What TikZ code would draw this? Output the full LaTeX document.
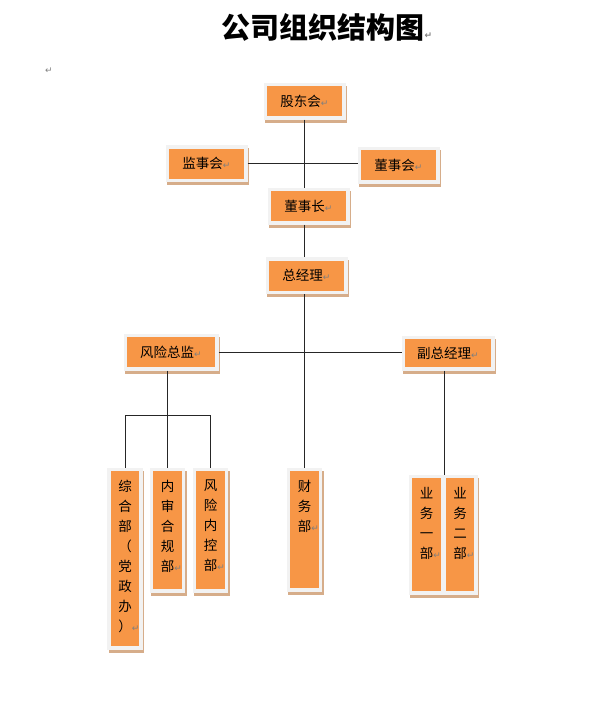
\documentclass[tikz,border=0pt]{standalone}
\usepackage{fontspec}
\usepackage{xcolor}
\usepackage{tikz}
\usetikzlibrary{positioning,shadows}
\newfontfamily\cjk{Noto Sans CJK SC}
\newfontfamily\symfont{DejaVu Sans}
\definecolor{boxorange}{HTML}{F79646}
\definecolor{framegray}{HTML}{F2F2F2}
\definecolor{shadowtan}{HTML}{D6AD8A}
\definecolor{markgray}{HTML}{7F7F7F}
\newcommand{\pmark}{{\symfont\color{markgray}\fontsize{9}{9}\selectfont ↵}}

\begin{document}
\begin{tikzpicture}[
    x=1pt, y=-1pt,
    font=\cjk\fontsize{13.5}{20}\selectfont,
    org_box/.style={fill=boxorange, draw=framegray, line width=3.5pt, inner sep=0pt,
        general shadow={fill=shadowtan, draw=shadowtan, line width=3.5pt, shadow xshift=1.5pt, shadow yshift=-3pt}},
    h_box/.style={org_box, minimum width=78.5pt, minimum height=33.5pt},
    v_box/.style={org_box, minimum width=32pt},
    v_text/.style={anchor=north, align=center, inner sep=0pt, yshift=-12.5pt},
    link/.style={draw=black!85, line width=1pt}
]
\useasboundingbox (0,0) rectangle (613,707);

\node (title) at (327,27) {\bfseries\fontsize{29}{29}\selectfont 公司组织结构图\pmark};
\node (pm) at (49,71) {\pmark};

% top level
\node (gd)   [h_box] at (304.5,101)   {股东会\pmark};
\node (jsh)  [h_box] at (206.5,163.5) {监事会\pmark};
\node (dsh)  [h_box] at (398.5,165)   {董事会\pmark};
\node (dsz)  [h_box] at (308.5,206)   {董事长\pmark};
\node (zjl)  [h_box] at (306.5,275.5) {总经理\pmark};
\node (fxzj) [h_box, minimum width=91.5pt] at (171,352) {风险总监\pmark};
\node (fzjl) [h_box, minimum width=89.5pt, minimum height=31.5pt] at (448,353) {副总经理\pmark};

% departments
\node (zh)  [v_box, minimum height=178.5pt] at (125,558.5) {};
\node (nsh) [v_box, minimum height=121.5pt] at (167.5,530) {};
\node (fk)  [v_box, minimum height=121.5pt] at (210.5,530) {};
\node (cw)  [v_box, minimum height=120.5pt] at (304.5,529.5) {};
\node (yw1) [v_box, minimum height=116.5pt] at (426.5,534.5) {};
\node (yw2) [v_box, minimum height=116.5pt] at (460,534.5) {};

\node (zhT)  [v_text] at (zh.north)  {综\\合\\部\\（\\党\\政\\办\\）\rlap{\pmark}};
\node (nshT) [v_text] at (nsh.north) {内\\审\\合\\规\\部\rlap{\pmark}};
\node (fkT)  [v_text] at (fk.north)  {风\\险\\内\\控\\部\rlap{\pmark}};
\node (cwT)  [v_text] at (cw.north)  {财\\务\\部\rlap{\pmark}};
\node (yw1T) [v_text] at (yw1.north) {业\\务\\一\\部\rlap{\pmark}};
\node (yw2T) [v_text] at (yw2.north) {业\\务\\二\\部\rlap{\pmark}};

\coordinate (br) at (nsh.north |- 0,415);

\draw [link] (gd.south) -- (gd.south |- dsz.north);
\draw [link] (jsh.east) -- (jsh.east -| dsh.west);
\draw [link] (gd.south |- dsz.south) -- (gd.south |- zjl.north);
\draw [link] (cw.north |- zjl.south) -- (cw.north);
\draw [link] (fxzj.east) -- (fxzj.east -| fzjl.west);
\draw [link] (nsh.north |- fxzj.south) -- (nsh.north);
\draw [link] (zh.north) -- (zh.north |- br) -- (fk.north |- br) -- (fk.north);
\draw [link] (yw1.north east |- fzjl.south) -- (yw1.north east);

\end{tikzpicture}
\end{document}
